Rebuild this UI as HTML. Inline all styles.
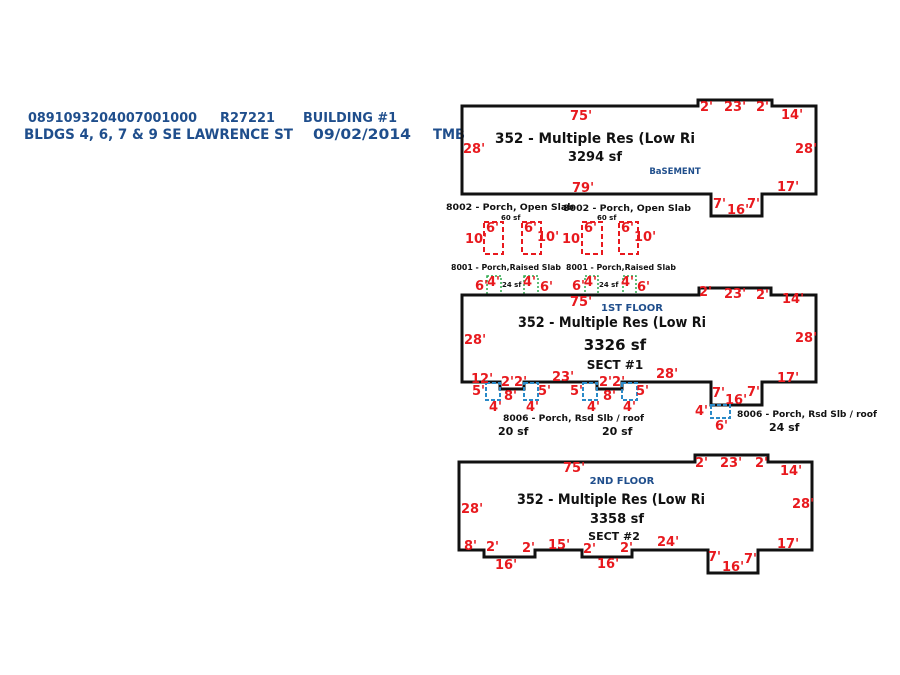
<!DOCTYPE html>
<html><head><meta charset="utf-8"><style>
html,body{margin:0;padding:0;background:#fff;}
svg{display:block;}
.r{fill:#e8191e;font-family:"DejaVu Sans","Liberation Sans",sans-serif;font-weight:bold;font-size:13px;}
.k{fill:#111;font-family:"DejaVu Sans","Liberation Sans",sans-serif;font-weight:bold;}
.b{fill:#1f4e8c;font-family:"DejaVu Sans","Liberation Sans",sans-serif;font-weight:bold;}
.w{fill:none;stroke:#111;stroke-width:3;}
.rd{fill:none;stroke:#e8191e;stroke-width:2;stroke-dasharray:5,3;}
.gd{fill:none;stroke:#2aa84a;stroke-width:1.5;stroke-dasharray:2,2;}
.bd{fill:none;stroke:#2a8ac8;stroke-width:2;stroke-dasharray:4,2;}
</style></head><body>
<svg width="900" height="675" viewBox="0 0 900 675" xmlns="http://www.w3.org/2000/svg">
<rect width="900" height="675" fill="#fff"/>
<!-- header -->
<text class="b" font-size="13" x="28" y="122" textLength="169" lengthAdjust="spacingAndGlyphs">0891093204007001000</text>
<text class="b" font-size="13" x="220" y="122" textLength="55" lengthAdjust="spacingAndGlyphs">R27221</text>
<text class="b" font-size="13" x="303" y="122" textLength="94" lengthAdjust="spacingAndGlyphs">BUILDING #1</text>
<text class="b" font-size="14" x="24" y="139" textLength="269" lengthAdjust="spacingAndGlyphs">BLDGS 4, 6, 7 &amp; 9 SE LAWRENCE ST</text>
<text class="b" font-size="14" x="313" y="139" textLength="98" lengthAdjust="spacingAndGlyphs">09/02/2014</text>
<text class="b" font-size="14" x="433" y="139" textLength="32" lengthAdjust="spacingAndGlyphs">TMB</text>

<!-- basement -->
<path class="w" d="M462,106 L698,106 L698,100 L772,100 L772,106 L816,106 L816,194 L762,194 L762,216 L711,216 L711,194 L462,194 Z"/>
<text class="r" x="570" y="120">75'</text>
<text class="r" x="700" y="111">2'</text><text class="r" x="724" y="111">23'</text><text class="r" x="756" y="111">2'</text>
<text class="r" x="781" y="119">14'</text>
<text class="r" x="463" y="153">28'</text><text class="r" x="795" y="153">28'</text>
<text class="r" x="572" y="192">79'</text><text class="r" x="777" y="191">17'</text>
<text class="r" x="713" y="208">7'</text><text class="r" x="727" y="214">16'</text><text class="r" x="747" y="208">7'</text>
<text class="k" font-size="14" x="595" y="143" text-anchor="middle" textLength="200" lengthAdjust="spacingAndGlyphs">352 - Multiple Res (Low Ri</text>
<text class="k" font-size="13" x="595" y="161" text-anchor="middle">3294 sf</text>
<text class="b" font-size="8.5" x="675" y="174" text-anchor="middle">BaSEMENT</text>

<!-- open slab porches -->
<text class="k" font-size="9" x="446" y="210" textLength="128" lengthAdjust="spacingAndGlyphs">8002 - Porch, Open Slab</text>
<text class="k" font-size="9" x="563" y="211" textLength="128" lengthAdjust="spacingAndGlyphs">8002 - Porch, Open Slab</text>
<text class="k" font-size="7" x="501" y="220">60 sf</text><text class="k" font-size="7" x="597" y="220">60 sf</text>
<rect class="rd" x="484" y="222" width="19" height="32"/><rect class="rd" x="522" y="222" width="19" height="32"/>
<rect class="rd" x="582" y="222" width="20" height="32"/><rect class="rd" x="619" y="222" width="19" height="32"/>
<text class="r" font-size="14" x="465" y="243">10'</text><text class="r" x="486" y="232">6'</text>
<text class="r" x="524" y="232">6'</text><text class="r" font-size="14" x="537" y="241">10'</text>
<text class="r" font-size="14" x="562" y="243">10'</text><text class="r" x="584" y="232">6'</text>
<text class="r" x="621" y="232">6'</text><text class="r" font-size="14" x="634" y="241">10'</text>

<!-- raised slab porches -->
<text class="k" font-size="8" x="451" y="270" textLength="110" lengthAdjust="spacingAndGlyphs">8001 - Porch,Raised Slab</text>
<text class="k" font-size="8" x="566" y="270" textLength="110" lengthAdjust="spacingAndGlyphs">8001 - Porch,Raised Slab</text>
<rect class="gd" x="487" y="276" width="14" height="19"/><rect class="gd" x="524" y="276" width="14" height="19"/>
<rect class="gd" x="585" y="276" width="13" height="19"/><rect class="gd" x="623" y="276" width="13" height="19"/>
<text class="r" font-size="14" x="475" y="290">6'</text><text class="r" font-size="14" x="487" y="286">4'</text>
<text class="k" font-size="7" x="502" y="287">24 sf</text>
<text class="r" font-size="14" x="523" y="286">4'</text><text class="r" font-size="14" x="540" y="291">6'</text>
<text class="r" font-size="14" x="572" y="290">6'</text><text class="r" font-size="14" x="584" y="286">4'</text>
<text class="k" font-size="7" x="599" y="287">24 sf</text>
<text class="r" font-size="14" x="621" y="286">4'</text><text class="r" font-size="14" x="637" y="291">6'</text>

<!-- 1st floor -->
<path class="w" d="M462,295 L699,295 L699,288 L771,288 L771,295 L816,295 L816,382 L762,382 L762,405 L711,405 L711,382 L622,382 L622,389 L597,389 L597,382 L524,382 L524,389 L500,389 L500,382 L462,382 Z"/>
<rect class="bd" x="486" y="383" width="14" height="17"/><rect class="bd" x="524" y="383" width="14" height="17"/>
<rect class="bd" x="583" y="383" width="14" height="17"/><rect class="bd" x="622" y="383" width="15" height="17"/>
<rect class="bd" x="711" y="405" width="19" height="13"/>
<text class="r" x="570" y="306">75'</text>
<text class="r" x="699" y="296">2'</text><text class="r" x="724" y="298">23'</text><text class="r" x="756" y="299">2'</text>
<text class="r" x="782" y="303">14'</text>
<text class="b" font-size="10" x="632" y="311" text-anchor="middle">1ST FLOOR</text>
<text class="k" font-size="14" x="612" y="327" text-anchor="middle" textLength="188" lengthAdjust="spacingAndGlyphs">352 - Multiple Res (Low Ri</text>
<text class="k" font-size="15" x="615" y="350" text-anchor="middle">3326 sf</text>
<text class="k" font-size="12" x="615" y="369" text-anchor="middle">SECT #1</text>
<text class="r" x="464" y="344">28'</text><text class="r" x="795" y="342">28'</text>
<text class="r" x="471" y="383">12'</text><text class="r" x="501" y="386">2'2'</text>
<text class="r" x="552" y="381">23'</text><text class="r" x="656" y="378">28'</text><text class="r" x="777" y="382">17'</text>
<text class="r" x="472" y="395">5'</text><text class="r" x="504" y="400">8'</text><text class="r" x="538" y="395">5'</text>
<text class="r" x="489" y="411">4'</text><text class="r" x="526" y="411">4'</text>
<text class="r" x="570" y="395">5'</text><text class="r" x="599" y="386">2'2'</text><text class="r" x="603" y="400">8'</text>
<text class="r" x="636" y="395">5'</text><text class="r" x="587" y="411">4'</text><text class="r" x="623" y="411">4'</text>
<text class="r" x="712" y="397">7'</text><text class="r" x="725" y="404">16'</text><text class="r" x="747" y="396">7'</text>
<text class="r" x="695" y="415">4'</text><text class="r" x="715" y="430">6'</text>
<text class="k" font-size="9" x="503" y="421" textLength="141" lengthAdjust="spacingAndGlyphs">8006 - Porch, Rsd Slb / roof</text>
<text class="k" font-size="11" x="498" y="435">20 sf</text><text class="k" font-size="11" x="602" y="435">20 sf</text>
<text class="k" font-size="9" x="737" y="417" textLength="140" lengthAdjust="spacingAndGlyphs">8006 - Porch, Rsd Slb / roof</text>
<text class="k" font-size="11" x="769" y="431">24 sf</text>

<!-- 2nd floor -->
<path class="w" d="M459,462 L695,462 L695,455 L768,455 L768,462 L812,462 L812,550 L758,550 L758,573 L708,573 L708,550 L632,550 L632,557 L582,557 L582,550 L535,550 L535,557 L484,557 L484,550 L459,550 Z"/>
<text class="r" x="563" y="472">75'</text>
<text class="r" x="695" y="467">2'</text><text class="r" x="720" y="467">23'</text><text class="r" x="755" y="467">2'</text>
<text class="r" x="780" y="475">14'</text>
<text class="b" font-size="10" x="622" y="484" text-anchor="middle">2ND FLOOR</text>
<text class="k" font-size="14" x="611" y="504" text-anchor="middle" textLength="188" lengthAdjust="spacingAndGlyphs">352 - Multiple Res (Low Ri</text>
<text class="k" font-size="13" x="617" y="523" text-anchor="middle">3358 sf</text>
<text class="k" font-size="11" x="614" y="540" text-anchor="middle">SECT #2</text>
<text class="r" x="461" y="513">28'</text><text class="r" x="792" y="508">28'</text>
<text class="r" x="464" y="550">8'</text><text class="r" x="486" y="551">2'</text><text class="r" x="522" y="552">2'</text>
<text class="r" x="548" y="549">15'</text><text class="r" x="583" y="553">2'</text><text class="r" x="620" y="552">2'</text>
<text class="r" x="657" y="546">24'</text><text class="r" x="777" y="548">17'</text>
<text class="r" x="495" y="569">16'</text><text class="r" x="597" y="568">16'</text>
<text class="r" x="708" y="561">7'</text><text class="r" x="722" y="571">16'</text><text class="r" x="744" y="563">7'</text>
</svg>
</body></html>
